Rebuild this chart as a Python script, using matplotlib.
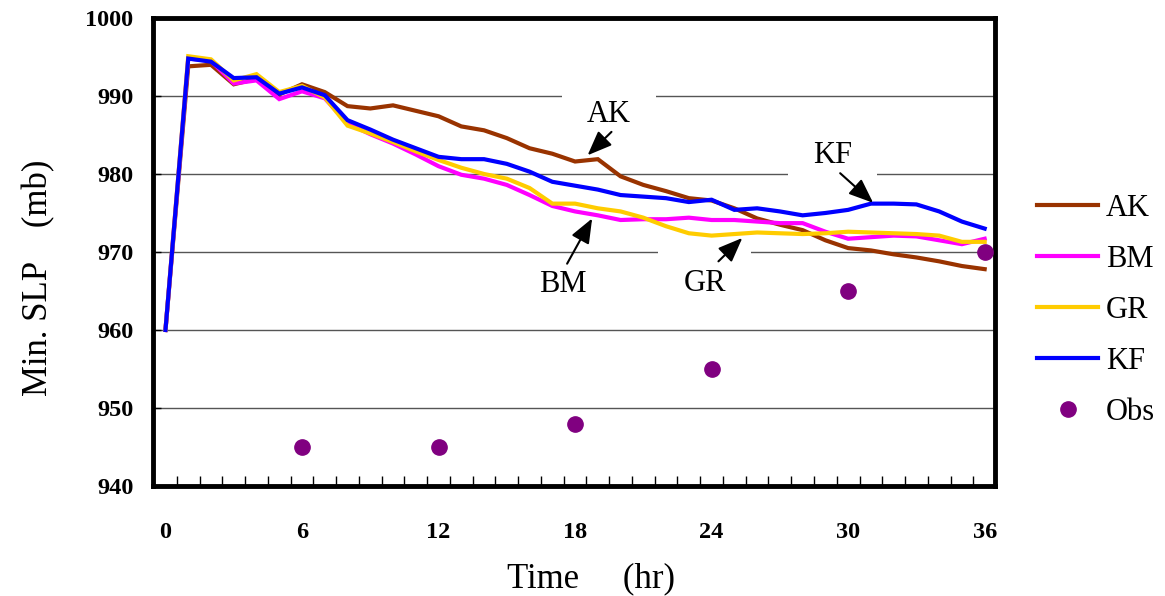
import matplotlib.pyplot as plt
import numpy as np

plt.rcParams['font.family'] = ['Liberation Serif', 'DejaVu Serif']

hours = np.arange(0, 37)

ak = [960.0, 993.8, 994.0, 991.5, 992.2, 990.2, 991.5, 990.5, 988.7, 988.4,
      988.8, 988.1, 987.4, 986.1, 985.6, 984.6, 983.3, 982.6, 981.6, 981.9,
      979.7, 978.6, 977.8, 976.9, 976.6, 975.6, 974.3, 973.5, 972.8, 971.5,
      970.5, 970.2, 969.7, 969.3, 968.8, 968.2, 967.8]
bm = [960.0, 994.8, 994.5, 991.6, 992.0, 989.6, 990.6, 989.7, 986.5, 985.1,
      983.9, 982.5, 981.0, 979.9, 979.4, 978.6, 977.3, 975.9, 975.2, 974.7,
      974.1, 974.2, 974.2, 974.4, 974.1, 974.1, 973.9, 973.7, 973.7, 972.6,
      971.7, 971.9, 972.1, 972.0, 971.5, 971.0, 971.7]
gr = [960.0, 995.1, 994.7, 992.0, 992.8, 990.5, 991.3, 989.8, 986.2, 985.2,
      984.1, 982.9, 981.8, 980.8, 980.0, 979.4, 978.2, 976.2, 976.2, 975.6,
      975.2, 974.4, 973.3, 972.4, 972.1, 972.3, 972.5, 972.4, 972.3, 972.4,
      972.6, 972.5, 972.4, 972.3, 972.1, 971.3, 971.3]
kf = [960.0, 994.8, 994.4, 992.3, 992.4, 990.3, 991.1, 990.1, 986.9, 985.7,
      984.4, 983.3, 982.2, 981.9, 981.9, 981.3, 980.3, 979.0, 978.5, 978.0,
      977.3, 977.1, 976.9, 976.4, 976.7, 975.4, 975.6, 975.2, 974.7, 975.0,
      975.4, 976.2, 976.2, 976.1, 975.2, 973.9, 973.0]

obs_hours = [6, 12, 18, 24, 30, 36]
obs = [945, 945, 948, 955, 965, 970]

series = [('AK', ak, '#993300'), ('BM', bm, '#FF00FF'),
          ('GR', gr, '#FFCC00'), ('KF', kf, '#0000FF')]

# label, text pos, arrow tail, arrow tip (data coords)
notes = [('AK', (19.5, 987.6), (19.6, 985.4), (18.55, 982.4)),
         ('BM', (17.45, 965.8), (17.65, 968.5), (18.75, 974.3)),
         ('GR', (23.7, 966.0), (24.3, 968.8), (25.35, 971.8)),
         ('KF', (29.3, 982.4), (29.65, 980.1), (31.1, 976.3))]
box_pad = {'AK': 18, 'BM': 6, 'GR': 18, 'KF': 18}

fig = plt.figure(figsize=(11.65, 5.96), dpi=100)
ax = fig.add_axes([0.1313, 0.1846, 0.7227, 0.7852])

for name, vals, col in series:
    ax.plot(hours, vals, color=col, lw=3, label=name, zorder=3,
            solid_joinstyle='miter')
ax.plot(obs_hours, obs, 'o', color='#800080', ms=11, label='Obs', zorder=4)

for lab, txt, tail, tip in notes:
    ax.text(txt[0], txt[1], lab, fontsize=22, ha='center', va='center', zorder=2,
            bbox=dict(facecolor='white', edgecolor='none', pad=box_pad[lab]))
    ax.annotate('', xy=tip, xytext=tail, zorder=5,
                arrowprops=dict(arrowstyle='-|>,head_length=1.5,head_width=0.6',
                                color='black', lw=1.5, shrinkA=0, shrinkB=0))

ax.set_xlim(-0.55, 36.45)
ax.set_ylim(940, 1000)
ax.set_yticks(np.arange(940, 1001, 10))
ax.set_xticks(np.arange(0, 37, 6))
ax.set_xticks(np.arange(0.5, 36, 1), minor=True)
ax.yaxis.grid(True, color='#555555', lw=1)
ax.set_axisbelow(True)

ax.tick_params(axis='x', which='major', length=0, pad=26, labelsize=17.5)
ax.tick_params(axis='x', which='minor', direction='in', length=7, width=1)
ax.tick_params(axis='y', direction='in', length=6, width=1, pad=14, labelsize=17.5)
for t in ax.get_xticklabels() + ax.get_yticklabels():
    t.set_fontweight('bold')

for s in ax.spines.values():
    s.set_linewidth(3.5)

ax.set_xlabel('Time     (hr)', fontsize=25, labelpad=14)
ax.xaxis.label.set_x(0.52)
ax.set_ylabel('Min. SLP    (mb)', fontsize=25, labelpad=22)
ax.yaxis.label.set_y(0.444)

fig.legend(loc='center left', bbox_to_anchor=(0.877, 0.479), frameon=False,
           fontsize=22, handlelength=2.0, handletextpad=0.25, labelspacing=0.72,
           borderpad=0, numpoints=1)

plt.savefig('out.png', dpi=100)
